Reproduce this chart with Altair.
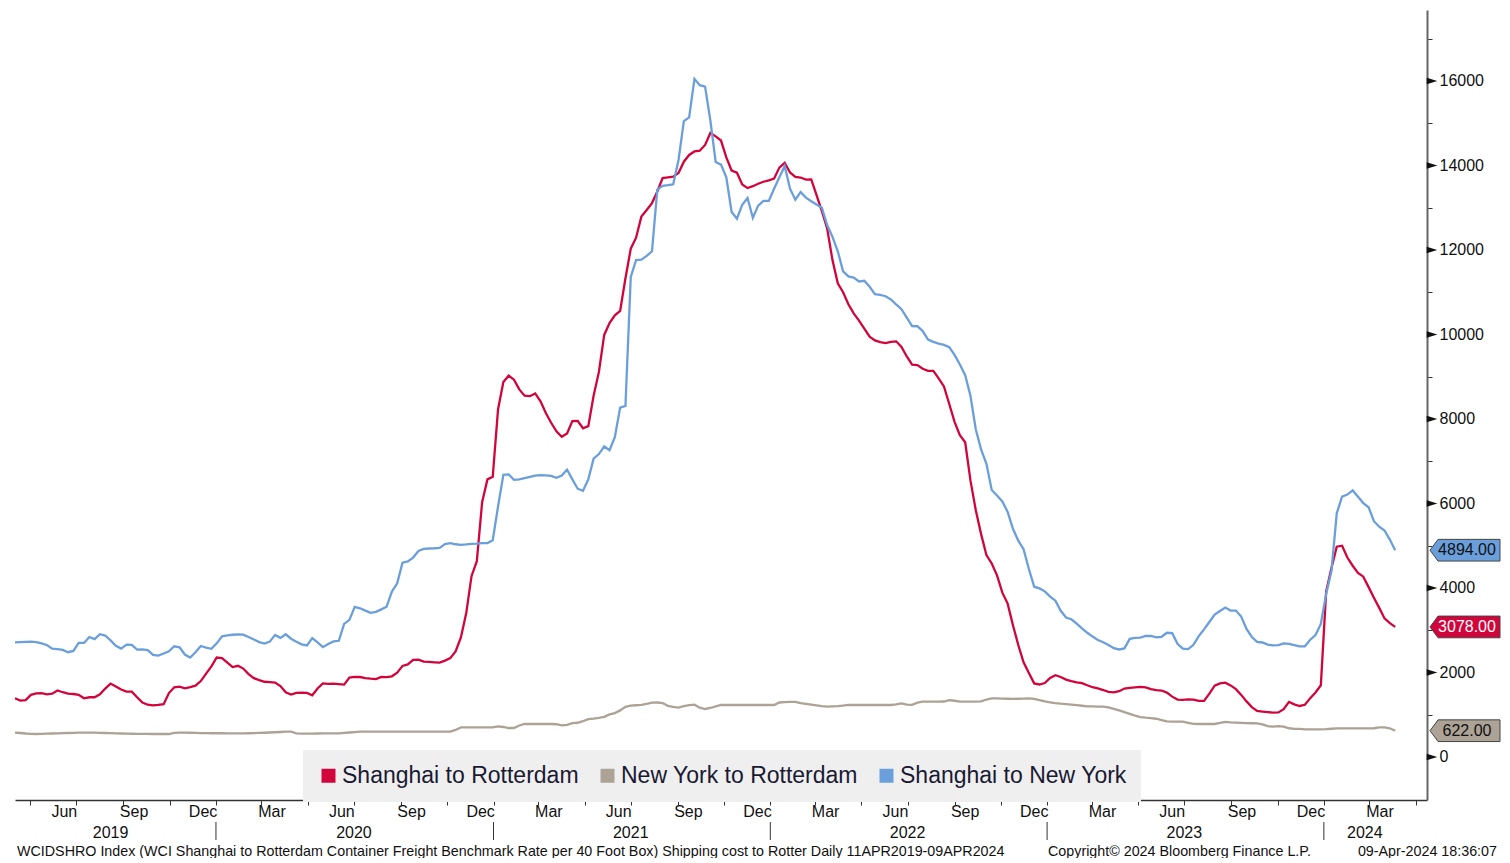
import altair as alt
import pandas as pd

FONT = "Liberation Sans"
W, H = 1412, 790

# ---------------- data ----------------
dates = pd.date_range("2019-04-11", periods=261, freq="7D")
date_str = [d.strftime("%Y-%m-%d") for d in dates]

series_names = ["Shanghai to Rotterdam", "New York to Rotterdam", "Shanghai to New York"]
series_colors = ["#d2043c", "#aca295", "#6a9fdc"]

sha_rtm = [1389,1335,1348,1470,1508,1513,1483,1500,1575,1533,
 1500,1491,1472,1390,1414,1414,1482,1620,1737,1666,
 1598,1548,1546,1413,1287,1237,1221,1231,1250,1513,
 1650,1666,1625,1654,1688,1797,1972,2145,2354,2340,
 2235,2128,2158,2093,1962,1866,1819,1781,1771,1762,
 1679,1530,1476,1519,1522,1517,1462,1621,1742,1731,
 1737,1726,1712,1879,1895,1893,1868,1853,1842,1895,
 1892,1910,1995,2156,2190,2300,2305,2257,2249,2241,
 2234,2280,2340,2497,2830,3400,4280,4635,6030,6570,
 6630,8230,8875,9025,8930,8700,8550,8540,8605,8420,
 8140,7910,7707,7580,7660,7950,7955,7780,7830,8550,
 9115,9990,10270,10455,10560,11330,12030,12290,12790,12945,
 13110,13385,13700,13718,13736,13825,14090,14250,14332,14350,
 14486,14770,14690,14590,14190,13880,13830,13550,13465,13510,
 13568,13615,13647,13690,13950,14064,13835,13730,13715,13665,
 13670,13300,12920,12510,11760,11210,11000,10715,10500,10330,
 10140,9947,9860,9820,9798,9826,9838,9703,9480,9284,
 9276,9190,9140,9137,8960,8770,8355,7930,7617,7450,
 6540,5840,5275,4780,4580,4300,3890,3630,3120,2650,
 2240,1990,1742,1716,1750,1870,1935,1893,1831,1797,
 1767,1749,1697,1651,1622,1585,1543,1531,1558,1619,
 1636,1647,1658,1646,1605,1581,1573,1525,1428,1360,
 1352,1364,1360,1326,1326,1500,1687,1742,1760,1694,
 1606,1470,1316,1180,1091,1076,1063,1051,1054,1130,
 1303,1245,1207,1235,1393,1527,1697,3915,4475,4978,
 5000,4720,4527,4357,4268,4020,3770,3530,3280,3170,3078]

nyc_rtm = [576,568,556,548,544,548,552,556,560,564,
 568,572,576,576,576,576,572,568,564,560,
 556,552,550,548,546,545,544,544,544,544,
 570,576,576,574,570,566,564,562,562,562,
 560,560,560,560,562,566,570,574,580,586,
 592,598,600,560,552,552,554,556,558,560,
 560,560,570,580,590,600,600,600,600,600,
 600,600,600,600,600,600,600,600,600,600,
 600,600,600,640,700,702,702,702,702,702,
 702,725,710,686,686,745,781,781,781,781,
 781,781,775,748,762,800,810,847,896,910,
 927,950,1008,1040,1103,1187,1215,1225,1235,1257,
 1286,1290,1276,1212,1188,1170,1204,1228,1238,1167,
 1136,1160,1200,1231,1231,1231,1231,1231,1231,1231,
 1231,1231,1231,1231,1290,1297,1306,1303,1276,1256,
 1238,1221,1204,1192,1198,1204,1218,1231,1231,1231,
 1231,1231,1231,1231,1231,1231,1245,1270,1237,1235,
 1285,1310,1310,1310,1310,1313,1345,1331,1311,1310,
 1310,1310,1318,1360,1388,1385,1382,1378,1375,1378,
 1383,1389,1375,1345,1315,1295,1275,1262,1252,1240,
 1226,1213,1200,1196,1193,1191,1175,1140,1105,1060,
 1020,980,945,930,920,905,875,845,837,837,
 837,810,785,781,781,781,781,810,830,820,
 815,808,803,799,795,770,730,720,730,720,
 680,665,665,655,655,655,655,660,668,675,
 679,679,679,679,679,679,680,700,702,680,622]

sha_nyc = [2715,2720,2725,2730,2720,2690,2650,2565,2555,2535,
 2480,2510,2700,2700,2840,2790,2905,2875,2760,2630,
 2565,2660,2655,2540,2545,2530,2415,2400,2450,2500,
 2620,2595,2425,2355,2480,2627,2590,2560,2690,2856,
 2878,2893,2904,2895,2840,2780,2720,2685,2730,2890,
 2820,2905,2800,2725,2665,2640,2815,2710,2600,2675,
 2735,2750,3150,3245,3555,3519,3465,3410,3434,3493,
 3555,3915,4110,4600,4630,4720,4875,4925,4935,4940,
 4950,5040,5060,5035,5020,5030,5045,5050,5060,5065,
 5130,5930,6680,6690,6560,6570,6600,6630,6660,6670,
 6665,6655,6610,6660,6800,6570,6350,6300,6570,7060,
 7170,7350,7260,7570,8270,8310,11360,11760,11770,11860,
 11970,13430,13520,13535,13555,14130,15050,15140,16050,15900,
 15866,15060,14080,14020,13720,12900,12740,13070,13230,12760,
 13050,13160,13160,13450,13720,13990,13450,13190,13370,13240,
 13155,13075,13000,12590,12310,11970,11495,11375,11345,11255,
 11270,11130,10955,10940,10905,10830,10710,10600,10400,10200,
 10195,10080,9880,9825,9785,9755,9700,9515,9290,9035,
 8545,7750,7280,6940,6320,6190,6050,5800,5400,5120,
 4920,4450,4030,3990,3920,3795,3700,3460,3300,3260,
 3155,3045,2940,2850,2770,2715,2650,2575,2545,2570,
 2795,2820,2825,2864,2864,2830,2845,2940,2930,2680,
 2565,2555,2655,2860,3020,3195,3370,3455,3537,3467,
 3466,3325,3030,2840,2725,2710,2660,2640,2650,2690,
 2677,2650,2620,2620,2775,2885,3150,3860,4400,5768,
 6160,6210,6310,6160,6010,5910,5580,5450,5360,5145,4894]

y_ticks_major = [0, 2000, 4000, 6000, 8000, 10000, 12000, 14000, 16000]
y_ticks_all = list(range(0, 18000, 1000))
month_ticks = pd.date_range("2019-05-01", "2024-05-01", freq="MS")
month_label_starts = pd.date_range("2019-06-01", "2024-03-01", freq="3MS")
month_label_dates = [(d + pd.Timedelta(days=14)).strftime("%Y-%m-%d") for d in month_label_starts]
month_label_names = [d.strftime("%b") for d in month_label_starts]
year_names = ["2019", "2020", "2021", "2022", "2023", "2024"]
year_label_dates = ["2019-08-15", "2020-07-01", "2021-07-01", "2022-07-01", "2023-07-01", "2024-02-24"]
year_sep_dates = ["2020-01-01", "2021-01-01", "2022-01-01", "2023-01-01", "2024-01-01"]

footer_left = ("WCIDSHRO Index (WCI Shanghai to Rotterdam Container Freight Benchmark Rate "
               "per 40 Foot Box) Shipping cost to Rotter  Daily 11APR2019-09APR2024")
footer_mid = "Copyright\u00a9 2024 Bloomberg Finance L.P."
footer_right = "09-Apr-2024 18:36:07"

# --------------- tables ---------------
rows = []
for name, col, vals in zip(series_names, series_colors, [sha_rtm, nyc_rtm, sha_nyc]):
    for d, v in zip(date_str, vals):
        rows.append({"date": d, "series": name, "lcolor": col, "value": v})
df = pd.DataFrame(rows)

last_vals = [sha_rtm[-1], nyc_rtm[-1], sha_nyc[-1]]
tags = pd.DataFrame({
    "series": series_names,
    "value": last_vals,
    "label": [f"{v:.2f}" for v in last_vals],
    "tcolor": ["#ffffff", "#111111", "#111111"],
})
ticks_df = pd.DataFrame({"v": y_ticks_major})
months_df = pd.DataFrame({"date": month_label_dates, "label": month_label_names})
years_df = pd.DataFrame({"date": year_label_dates, "label": year_names})
seps_df = pd.DataFrame({"date": year_sep_dates})


def ms(s):
    return int(pd.Timestamp(s).value // 10**6)


x_scale = alt.Scale(type="utc", domain=[ms("2019-04-11"), ms("2024-05-16")])
y_scale = alt.Scale(domain=[-1018, 17680], nice=False, zero=False)
color_scale = alt.Scale(domain=series_names, range=series_colors)

x_axis = alt.Axis(
    title=None, grid=False, labels=False,
    values=[ms(d) for d in month_ticks],
    tickSize=5, tickColor="#333333", domainColor="#333333", domainWidth=1.5,
)
y_axis = alt.Axis(
    orient="right", title=None, grid=False,
    values=y_ticks_all,
    labelExpr="datum.value % 2000 == 0 ? datum.value : ''",
    labelFont=FONT, labelFontSize=16, labelColor="#111111", labelPadding=7,
    labelOverlap=False,
    tickSize=5, tickColor="#333333", domainColor="#666666", domainWidth=2,
)

lines = alt.Chart(df).mark_line(strokeWidth=2.3).encode(
    x=alt.X("date:T", scale=x_scale, axis=x_axis),
    y=alt.Y("value:Q", scale=y_scale, axis=y_axis),
    color=alt.Color("lcolor:N", scale=None),
    detail="series:N",
)

TRI = "M -1 -0.6 L 1 0 L -1 0.6 Z"
tri = alt.Chart(ticks_df).mark_point(shape=TRI, filled=True, size=112, color="#111111", opacity=1).encode(
    x=alt.value(W + 5), y=alt.Y("v:Q", scale=y_scale),
)

TAG = "M -1 0 L -0.77 -0.31 L 1 -0.31 L 1 0.31 L -0.77 0.31 Z"
tag_shape = alt.Chart(tags).mark_point(shape=TAG, filled=True, size=4900, stroke="#444444",
                                       strokeWidth=1, opacity=1, fillOpacity=1).encode(
    x=alt.value(W + 38), y=alt.Y("value:Q", scale=y_scale),
    fill=alt.Fill("series:N", scale=color_scale, legend=alt.Legend(
        title=None, orient="none", legendX=288, legendY=740, direction="horizontal",
        fillColor="#efefef", padding=14, symbolType="square", symbolSize=196,
        symbolStrokeWidth=0, symbolOpacity=1, labelFont=FONT, labelFontSize=23,
        labelColor="#1a1a33", labelOffset=2, columnPadding=17, labelLimit=400,
    )),
)
tag_text = alt.Chart(tags).mark_text(font=FONT, fontSize=16, align="center", baseline="middle").encode(
    x=alt.value(W + 40), y=alt.Y("value:Q", scale=y_scale), text="label:N",
    color=alt.Color("tcolor:N", scale=None),
)

month_text = alt.Chart(months_df).mark_text(font=FONT, fontSize=16, color="#111111", baseline="middle").encode(
    x=alt.X("date:T", scale=x_scale), y=alt.value(802), text="label:N",
)
year_text = alt.Chart(years_df).mark_text(font=FONT, fontSize=16, color="#111111", baseline="middle").encode(
    x=alt.X("date:T", scale=x_scale), y=alt.value(823), text="label:N",
)
year_sep = alt.Chart(seps_df).mark_rule(color="#333333", strokeWidth=1).encode(
    x=alt.X("date:T", scale=x_scale), y=alt.value(812), y2=alt.value(830),
)


def footer(text, xpos, align):
    return alt.Chart(pd.DataFrame({"t": [text]})).mark_text(
        font=FONT, fontSize=14.3, color="#111111", align=align, baseline="middle"
    ).encode(x=alt.value(xpos), y=alt.value(842), text="t:N")


chart = alt.layer(
    lines, tri, tag_shape, tag_text, month_text, year_text, year_sep,
    footer(footer_left, 2, "left"), footer(footer_mid, 1033, "left"), footer(footer_right, 1482, "right"),
).properties(
    width=W, height=H,
    autosize=alt.AutoSizeParams(type="none"),
    padding={"left": 7, "top": 2, "right": 75, "bottom": 58},
).configure_view(stroke=None)

chart.save("out.html", embed_options={"renderer": "svg", "actions": False})
